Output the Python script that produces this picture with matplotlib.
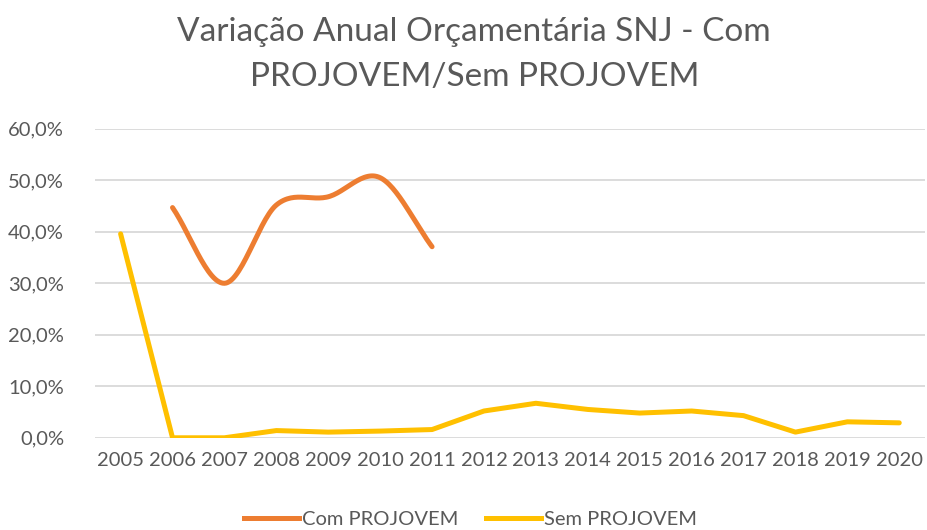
import matplotlib
matplotlib.use("Agg")
import matplotlib.pyplot as plt
import numpy as np
from matplotlib.ticker import FuncFormatter
from matplotlib.lines import Line2D

years = ["2005", "2006", "2007", "2008", "2009", "2010", "2011", "2012",
         "2013", "2014", "2015", "2016", "2017", "2018", "2019", "2020"]
com_projovem = [None, 44.7, 30.0, 45.2, 46.8, 50.5, 37.1,
                None, None, None, None, None, None, None, None, None]
sem_projovem = [39.6, 0.0, 0.0, 1.4, 1.1, 1.3, 1.6, 5.2, 6.7, 5.5, 4.8, 5.2,
                4.3, 1.1, 3.1, 2.9]

ORANGE = "#ED7D31"
YELLOW = "#FFC000"
GRAY = "#595959"
FONT = ["Lato", "DejaVu Sans"]

plt.rcParams['font.family'] = FONT


def catmull_rom(xs, ys, n=30):
    xs = np.asarray(xs, float)
    ys = np.asarray(ys, float)
    P = np.column_stack([xs, ys])
    P = np.vstack([2 * P[0] - P[1], P, 2 * P[-1] - P[-2]])
    out = []
    for i in range(1, len(P) - 2):
        p0, p1, p2, p3 = P[i - 1], P[i], P[i + 1], P[i + 2]
        t = np.linspace(0, 1, n)[:, None]
        c1 = p1 + (p2 - p0) / 6.0
        c2 = p2 - (p3 - p1) / 6.0
        seg = ((1 - t) ** 3) * p1 + 3 * ((1 - t) ** 2) * t * c1 + 3 * (1 - t) * t ** 2 * c2 + t ** 3 * p2
        out.append(seg if i == 1 else seg[1:])
    s = np.vstack(out)
    return s[:, 0], s[:, 1]


fig = plt.figure(figsize=(9.28, 5.30), dpi=100)
ax = fig.add_axes([0.102, 0.174, 0.895, 0.583])

x = np.arange(len(years))
cx = [i for i, v in enumerate(com_projovem) if v is not None]
cy = [v for v in com_projovem if v is not None]
sx, sy = catmull_rom(cx, cy)
ax.plot(sx, sy, color=ORANGE, lw=3.6, solid_capstyle='round', zorder=3)
ax.plot(x, sem_projovem, color=YELLOW, lw=3.6, solid_capstyle='round',
        solid_joinstyle='round', zorder=3)

ax.set_xlim(-0.5, len(years) - 0.5)
ax.set_ylim(0, 60)
ax.set_yticks(np.arange(0, 61, 10))
ax.yaxis.set_major_formatter(FuncFormatter(lambda v, p: f"{v:.1f}%".replace(".", ",")))
ax.set_xticks(x)
ax.set_xticklabels(years)
ax.grid(axis='y', color="#D9D9D9", lw=1.3)
ax.set_axisbelow(True)
for s in ax.spines.values():
    s.set_visible(False)
ax.tick_params(length=0, labelsize=14.5, colors=GRAY)
ax.tick_params(axis='y', pad=22)
ax.tick_params(axis='x', pad=10)

fig.text(0.511, 0.968, "Variação Anual Orçamentária SNJ - Com\nPROJOVEM/Sem PROJOVEM",
         ha='center', va='top', fontsize=24, color=GRAY, linespacing=1.62)

handles = [Line2D([], [], color=ORANGE, lw=3.6),
           Line2D([], [], color=YELLOW, lw=3.6)]
fig.legend(handles, ["Com PROJOVEM", "Sem PROJOVEM"], loc='center',
           bbox_to_anchor=(0.507, 0.02), ncol=2, frameon=False, fontsize=14.5,
           labelcolor=GRAY, handlelength=2.7, handletextpad=0.15, columnspacing=1.4)

fig.savefig("out.png", dpi=100)
